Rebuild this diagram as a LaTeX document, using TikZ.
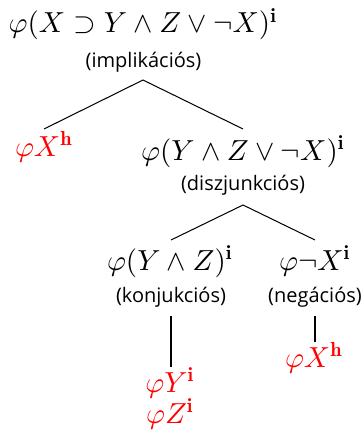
\documentclass[tikz,border=0pt]{standalone}
\usepackage{fontspec}
\newfontfamily\lblfont{Open Sans}
\begin{document}
\begin{tikzpicture}[x=0.345pt,y=-0.345pt,
  fml/.style={inner sep=0pt,anchor=base},
  red fml/.style={fml,text=red},
  lbl/.style={inner sep=0pt,font=\lblfont\fontsize{6.9}{8}\selectfont},
  edge/.style={line width=0.35pt,black}]
\useasboundingbox (0,0) rectangle (363,434);
\node[fml] (root) at (143,33) {$\varphi(X\supset Y\wedge Z\vee\neg X)^{\mathbf{i}}$};
\node[lbl] (rootl) at (143.5,62) {(implikációs)};
\coordinate (a1) at (143,80);
\node[red fml] (l) at (44,156) {$\varphi X^{\mathbf{h}}$};
\coordinate (l1) at (44,129);
\node[fml] (r) at (243,160) {$\varphi(Y\wedge Z\vee\neg X)^{\mathbf{i}}$};
\coordinate (r1) at (243,129);
\node[lbl] (rl) at (243,185) {(diszjunkciós)};
\coordinate (a2) at (243,205);
\node[fml] (rr1) at (170,270) {$\varphi(Y\wedge Z)^{\mathbf{i}}$};
\coordinate (c1) at (171,240);
\node[fml] (rr2) at (315,270) {$\varphi\neg X^{\mathbf{i}}$};
\coordinate (c2) at (315,240);
\node[lbl] (k1) at (171,297) {(konjukciós)};
\node[lbl] (k2) at (315,297) {(negációs)};
\coordinate (v1a) at (171,316);
\coordinate (v1b) at (171,367);
\coordinate (v2a) at (315,316);
\coordinate (v2b) at (315,342);
\node[red fml] (y) at (170,392) {$\varphi Y^{\mathbf{i}}$};
\node[red fml] (z) at (170,423) {$\varphi Z^{\mathbf{i}}$};
\node[red fml] (xh) at (314,367) {$\varphi X^{\mathbf{h}}$};
\draw[edge] (l1) -- (a1) -- (r1);
\draw[edge] (c1) -- (a2) -- (c2);
\draw[edge] (v1a) -- (v1b);
\draw[edge] (v2a) -- (v2b);
\end{tikzpicture}
\end{document}
